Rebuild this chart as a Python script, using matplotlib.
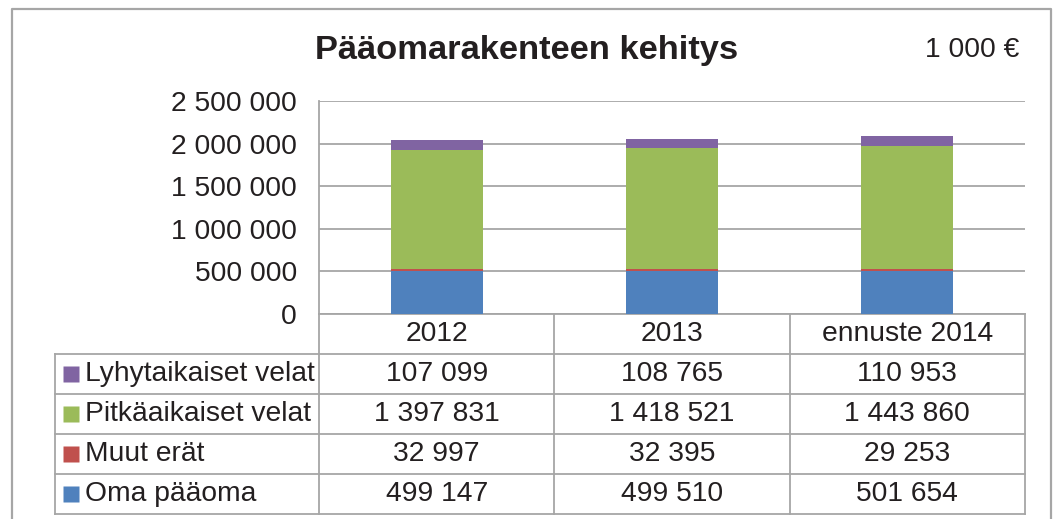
import numpy as np
import matplotlib
matplotlib.use('Agg')
import matplotlib.pyplot as plt

plt.rcParams['font.family'] = ['Liberation Sans', 'DejaVu Sans']

# data
categories = ['2012', '2013', 'ennuste 2014']
series_names = ['Oma pääoma', 'Muut erät', 'Pitkäaikaiset velat', 'Lyhytaikaiset velat']
oma_paaoma = [499147, 499510, 501654]
muut_erat = [32997, 32395, 29253]
pitkaaikaiset = [1397831, 1418521, 1443860]
lyhytaikaiset = [107099, 108765, 110953]
yticks = [0, 500000, 1000000, 1500000, 2000000, 2500000]

colors = ['#4F81BD', '#C0504D', '#9BBB59', '#8064A2']
grid_c = '#A6A6A6'
text_c = '#231F20'
fs = 20.3


def fmt(v):
    return f'{v:,}'.replace(',', ' ')


W, H = 1057, 519
fig = plt.figure(figsize=(W / 100, H / 100), dpi=100)

# outer chart frame
fig.add_artist(plt.Line2D([12 / W, 12 / W, 1051 / W, 1051 / W], [0, 1 - 9 / H, 1 - 9 / H, 0],
                          color=grid_c, lw=1.6, transform=fig.transFigure))

# plot area (pixels)
px0, px1, py_top, py_bot = 319, 1025, 101, 314
ax = fig.add_axes([px0 / W, 1 - py_bot / H, (px1 - px0) / W, (py_bot - py_top) / H])

x = np.arange(len(categories))
values = [oma_paaoma, muut_erat, pitkaaikaiset, lyhytaikaiset]
bottom = np.zeros(len(categories))
for vals, c in zip(values, colors):
    ax.bar(x, vals, width=0.39, bottom=bottom, color=c, edgecolor='none', zorder=3)
    bottom += np.array(vals)

ax.set_xlim(-0.5, 2.5)
ax.set_ylim(0, 2500000)
ax.set_yticks(yticks)
ax.set_yticklabels([fmt(v) for v in yticks], fontsize=fs, color=text_c)
ax.set_xticks([])
ax.tick_params(axis='y', length=0, pad=16)
ax.yaxis.grid(True, color=grid_c, lw=1.3, zorder=0)
for s in ['top', 'right']:
    ax.spines[s].set_visible(False)
for s in ['left', 'bottom']:
    ax.spines[s].set_color(grid_c)
    ax.spines[s].set_linewidth(1.3)

# title and unit
fig.text(527 / W, 1 - 50 / H, 'Pääomarakenteen kehitys', ha='center', va='center',
         fontsize=24.8, fontweight='bold', color=text_c)
fig.text(1019 / W, 1 - 50 / H, '1 000 €', ha='right', va='center', fontsize=fs, color=text_c)

# data table
tx0, ty_top, ty_bot = 55, 314, 514
tab = fig.add_axes([tx0 / W, 1 - ty_bot / H, (px1 - tx0) / W, (ty_bot - ty_top) / H])
unit = (px1 - px0) / 3.0
left = -0.5 - (px0 - tx0) / unit
tab.set_xlim(left, 2.5)
tab.set_ylim(0, 5)
tab.axis('off')

line_kw = dict(color=grid_c, lw=1.3, clip_on=False)
for yy in range(0, 5):
    tab.plot([left, 2.5], [yy, yy], **line_kw)
tab.plot([left, left], [0, 4], **line_kw)
for xx in [-0.5, 0.5, 1.5, 2.5]:
    tab.plot([xx, xx], [0, 5], **line_kw)

for i, cat in enumerate(categories):
    tab.text(i, 4.5, cat, ha='center', va='center', fontsize=fs, color=text_c)

rows = list(zip(series_names, values, colors))[::-1]
for r, (name, vals, c) in enumerate(rows):
    yc = 3.5 - r
    tab.plot([left + 16.5 / unit], [yc], marker='s', ms=11, color=c, mec='none', clip_on=False)
    tab.text(left + 30 / unit, yc, name, ha='left', va='center', fontsize=fs, color=text_c)
    for i, v in enumerate(vals):
        tab.text(i, yc, fmt(v), ha='center', va='center', fontsize=fs, color=text_c)

fig.savefig('out.png', dpi=100)
